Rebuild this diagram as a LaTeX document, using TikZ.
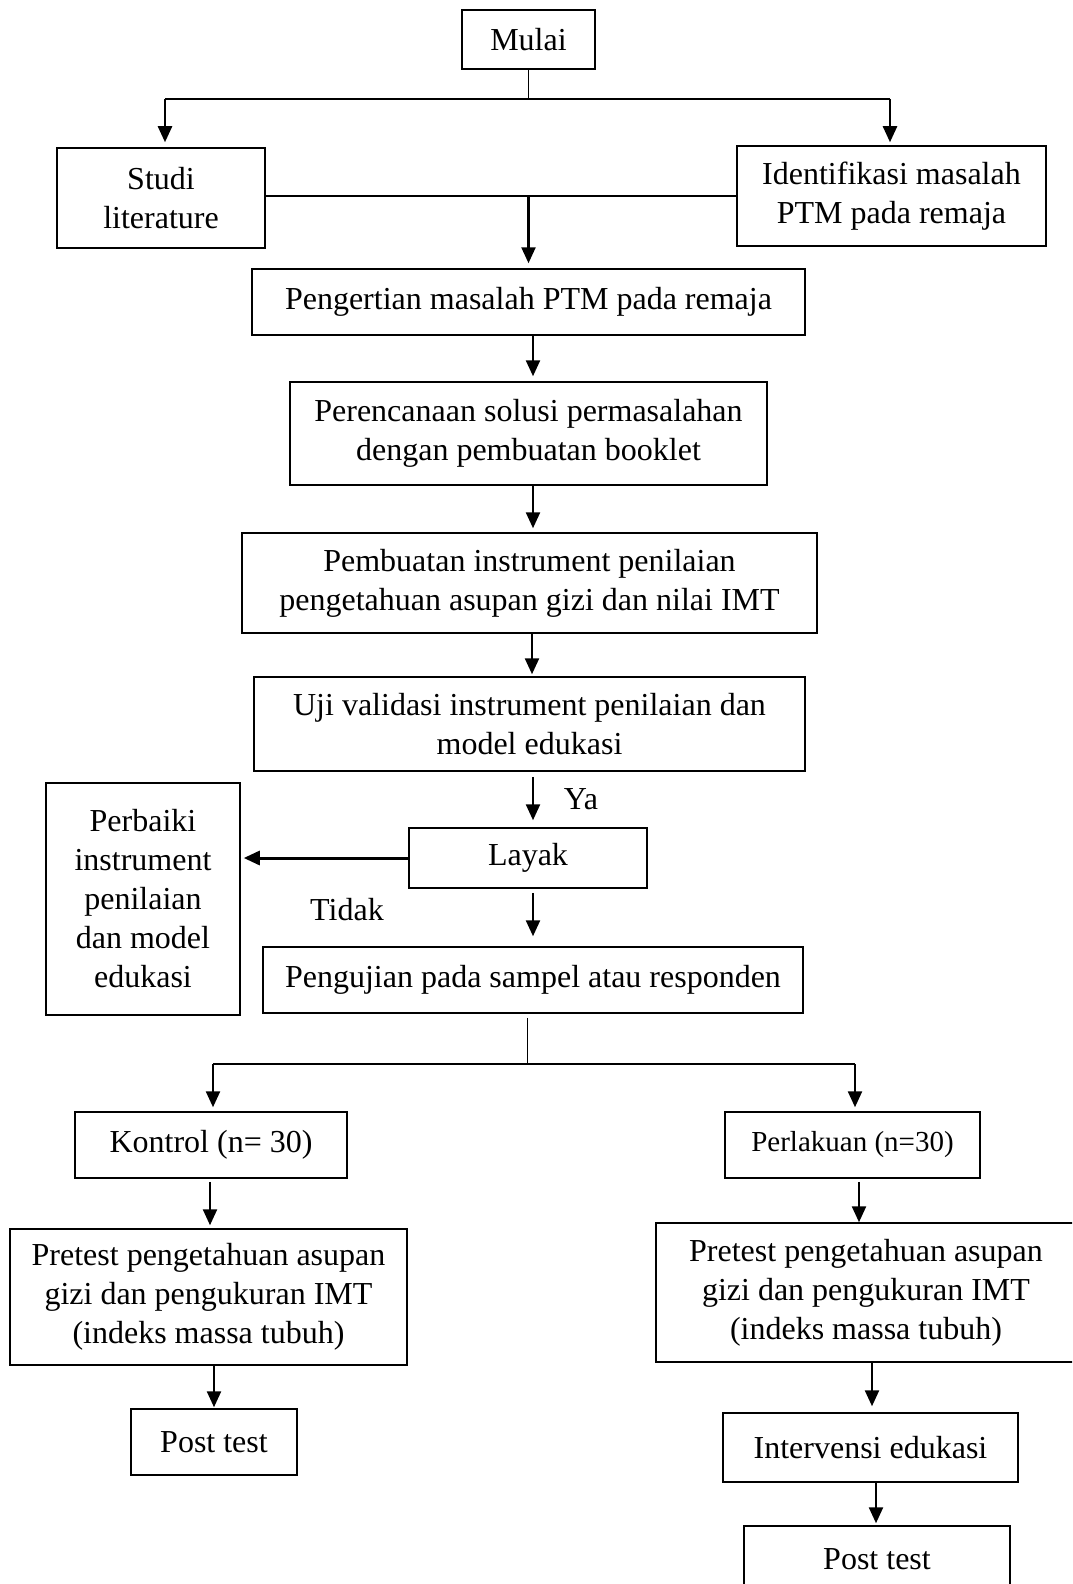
\documentclass[tikz,border=0pt]{standalone}
\usepackage{fontspec}
\setmainfont{Liberation Serif}
\usetikzlibrary{arrows.meta}
\begin{document}
\begin{tikzpicture}[x=1pt,y=-1pt,
  box/.style={draw, line width=1.5pt, inner sep=0pt, align=center, font=\fontsize{32}{39}\selectfont},
  arr/.style={line width=2.4pt, -{Triangle[length=16pt,width=14pt]}},
  thinline/.style={line width=1pt},
  midline/.style={line width=1.7pt},
  lab/.style={font=\fontsize{32}{39}\selectfont, inner sep=0pt}]
\clip (0,0) rectangle (1072,1584);
\fill[white] (0,0) rectangle (1072,1584);

% boxes
\node[box, minimum width=133pt, minimum height=59pt] (mulai) at (528.5,39.5) {Mulai};
\node[box, minimum width=208pt, minimum height=100pt] (studi) at (161,198) {Studi\\literature};
\node[box, minimum width=309pt, minimum height=100pt] (ident) at (891.5,196) {Identifikasi masalah\\PTM pada remaja};
\node[box, minimum width=553pt, minimum height=66pt] (peng) at (528.5,302) {Pengertian masalah PTM pada remaja};
\node[box, minimum width=477pt, minimum height=103pt] (renc) at (528.5,433.5) {Perencanaan solusi permasalahan\\dengan pembuatan booklet};
\node[box, minimum width=575pt, minimum height=100pt] (buat) at (529.5,583) {Pembuatan instrument penilaian\\pengetahuan asupan gizi dan nilai IMT};
\node[box, minimum width=551pt, minimum height=94pt] (uji) at (529.5,724) {Uji validasi instrument penilaian dan\\model edukasi};
\node[box, minimum width=238pt, minimum height=60pt] (layak) at (528,858) {Layak};
\node[box, minimum width=194pt, minimum height=232pt] (perb) at (143,899) {Perbaiki\\instrument\\penilaian\\dan model\\edukasi};
\node[box, minimum width=540pt, minimum height=66pt] (pengujian) at (533,980) {Pengujian pada sampel atau responden};
\node[box, minimum width=272pt, minimum height=66pt] (kontrol) at (211,1145) {Kontrol (n= 30)};
\node[box, minimum width=255pt, minimum height=66pt, font=\fontsize{29}{35}\selectfont] (perlak) at (852.5,1145) {Perlakuan (n=30)};
\node[box, minimum width=397pt, minimum height=136pt] (pre1) at (208.5,1297) {Pretest pengetahuan asupan\\gizi dan pengukuran IMT\\(indeks massa tubuh)};
\node[box, minimum width=420pt, minimum height=139pt] (pre2) at (866,1292.5) {Pretest pengetahuan asupan\\gizi dan pengukuran IMT\\(indeks massa tubuh)};
\node[box, minimum width=166pt, minimum height=66pt] (post1) at (214,1442) {Post test};
\node[box, minimum width=295pt, minimum height=69pt] (interv) at (870.5,1447.5) {Intervensi edukasi};
\node[box, minimum width=266pt, minimum height=66pt] (post2) at (877,1559) {Post test};

% labels
\node[lab] (ya) at (581,799) {Ya};
\node[lab] (tidak) at (347,910) {Tidak};

% connectors top
\coordinate (j1) at (528.5,99);
\coordinate (sl) at (165,99);
\coordinate (sr) at (890,99);
\draw[thinline] (mulai.south) -- (j1);
\draw[midline] (sl) -- (sr);
\draw[arr, shorten >=5pt] (sl) -- (sl |- studi.north);
\draw[arr, shorten >=3pt] (sr) -- (sr |- ident.north);

\draw[midline] (studi.east |- ident.west) -- (ident.west);
\coordinate (j2) at (528.5,196);
\draw[arr, shorten >=5pt] (j2) -- (j2 |- peng.north);

\draw[arr, shorten >=5pt] ([xshift=4.5pt]peng.south) -- ([xshift=4.5pt]peng.south |- renc.north);
\draw[arr, shorten >=4pt] ([xshift=4.5pt]renc.south) -- ([xshift=4.5pt]renc.south |- buat.north);
\draw[arr, shorten >=2pt] ([xshift=2.5pt]buat.south) -- ([xshift=2.5pt]buat.south |- uji.north);
\draw[arr, shorten <=5pt, shorten >=7pt] ([xshift=3.5pt]uji.south) -- ([xshift=3.5pt]uji.south |- layak.north);
\draw[arr, line width=3pt, shorten >=3pt] (layak.west) -- (layak.west -| perb.east);
\draw[arr, shorten <=4pt, shorten >=10pt] ([xshift=5pt]layak.south) -- ([xshift=5pt]layak.south |- pengujian.north);

% lower branch
\coordinate (j3) at (527,1064);
\coordinate (bl) at (213,1064);
\coordinate (br) at (855,1064);
\draw[thinline, shorten <=4pt] ([xshift=-6pt]pengujian.south) -- (j3);
\draw[midline] (bl) -- (br);
\draw[arr, shorten >=4pt] (bl) -- (bl |- kontrol.north);
\draw[arr, shorten >=4pt] (br) -- (br |- perlak.north);

\draw[arr, shorten <=3pt, shorten >=3pt] ([xshift=-1pt]kontrol.south) -- ([xshift=-1pt]kontrol.south |- pre1.north);
\draw[arr, shorten <=3pt] ([xshift=6.5pt]perlak.south) -- ([xshift=6.5pt]perlak.south |- pre2.north);
\draw[arr, shorten >=1pt] ([xshift=5.5pt]pre1.south) -- ([xshift=5.5pt]pre1.south |- post1.north);
\draw[arr, shorten >=6pt] ([xshift=6pt]pre2.south) -- ([xshift=6pt]pre2.south |- interv.north);
\draw[arr, shorten >=2pt] ([xshift=5.5pt]interv.south) -- ([xshift=5.5pt]interv.south |- post2.north);
\end{tikzpicture}
\end{document}
